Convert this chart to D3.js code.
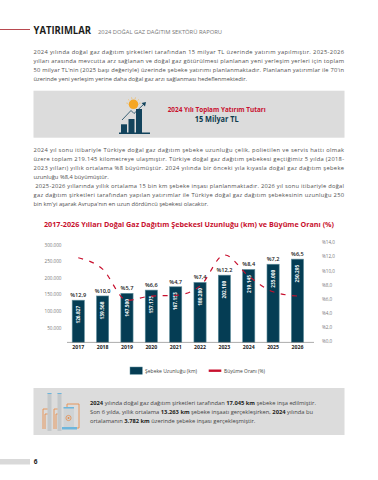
<!DOCTYPE html>
<html>
<head>
<meta charset="utf-8">
<script src="https://cdn.jsdelivr.net/npm/d3@7"></script>
<style>
html, body { margin: 0; padding: 0; background: #fff; }
svg { display: block; font-family: "Open Sans", sans-serif; }
</style>
</head>
<body>
<div id="chart"></div>
<script>
const years = ["2017", "2018", "2019", "2020", "2021", "2022", "2023", "2024", "2025", "2026"];
const lengths = [126827, 139568, 147500, 157175, 167153, 180280, 202100, 219145, 235000, 250295];
const lengthLabels = ["126.827", "139.568", "147.500", "157.175", "167.153", "180.280", "202.100", "219.145", "235.000", "250.295"];
const growth = [11.8, 10.2, 5.8, 6.4, 6.5, 7.8, 12.2, 9.2, 7.0, 6.4];
const growthLabels = ["%12,9", "%10,0", "%5,7", "%6,6", "%4,7", "%7,4", "%12,2", "%8,4", "%7,2", "%6,5"];
const leftTicks = [50000, 100000, 150000, 200000, 250000, 300000];
const leftTickLabels = ["50.000", "100.000", "150.000", "200.000", "250.000", "300.000"];
const rightTicks = [0, 2, 4, 6, 8, 10, 12, 14];
const rightTickLabels = ["%0,0", "%2,0", "%4,0", "%6,0", "%8,0", "%10,0", "%12,0", "%14,0"];

const para1 = [
    "2024 yılında doğal gaz dağıtım şirketleri tarafından 15 milyar TL üzerinde yatırım yapılmıştır. 2025-2026",
    "yılları arasında mevcutta arz sağlanan ve doğal gaz götürülmesi planlanan yeni yerleşim yerleri için toplam",
    "50 milyar TL'nin (2025 başı değeriyle) üzerinde şebeke yatırımı planlanmaktadır. Planlanan yatırımlar ile 70'in",
    "üzerinde yeni yerleşim yerine daha doğal gaz arzı sağlanması hedeflenmektedir."
];
const para2 = [
    "2024 yıl sonu itibariyle Türkiye doğal gaz dağıtım şebeke uzunluğu çelik, polietilen ve servis hattı olmak",
    "üzere toplam 219.145 kilometreye ulaşmıştır. Türkiye doğal gaz dağıtım şebekesi geçtiğimiz 5 yılda (2018-",
    "2023 yılları) yıllık ortalama %8 büyümüştür. 2024 yılında bir önceki yıla kıyasla doğal gaz dağıtım şebeke",
    "uzunluğu %8,4 büyümüştür.",
    " 2025-2026 yıllarında yıllık ortalama 15 bin km şebeke inşası planlanmaktadır. 2026 yıl sonu itibariyle doğal",
    "gaz dağıtım şirketleri tarafından yapılan yatırımlar ile Türkiye doğal gaz dağıtım şebekesinin uzunluğu 250",
    "bin km'yi aşarak Avrupa'nın en uzun dördüncü şebekesi olacaktır."
];
// [text, bold]
const note = [
    [["2024", 1], [" yılında doğal gaz dağıtım şirketleri tarafından ", 0], ["17.045 km", 1], [" şebeke inşa edilmiştir.", 0]],
    [["Son 6 yılda, yıllık ortalama ", 0], ["13.263 km", 1], [" şebeke inşaatı gerçekleşirken, ", 0], ["2024", 1], [" yılında bu", 0]],
    [["ortalamanın ", 0], ["3.782 km", 1], [" üzerinde şebeke inşası gerçekleşmiştir.", 0]]
];

const width = 378;
const height = 480;
const navy = "#053d54";
const red = "#c8102e";
const textGrey = "#505050";

const svg = d3.select("#chart").append("svg")
    .attr("width", width)
    .attr("height", height);

// header
svg.append("rect").attr("x", 0).attr("y", 29).attr("width", 30).attr("height", 1).attr("fill", "#b8494f");
svg.append("text").attr("x", 33.5).attr("y", 33.5)
    .attr("font-size", 10).attr("font-weight", 700).attr("fill", "#1d1d1b")
    .attr("textLength", 57.5).attr("lengthAdjust", "spacingAndGlyphs")
    .text("YATIRIMLAR");
svg.append("text").attr("x", 98).attr("y", 33.5)
    .attr("font-size", 5.6).attr("fill", "#777")
    .attr("textLength", 124).attr("lengthAdjust", "spacingAndGlyphs")
    .text("2024 DOĞAL GAZ DAĞITIM SEKTÖRÜ RAPORU");

function writeLines(lines, y0, justifyExcept) {
    svg.append("g").selectAll("text")
        .data(lines)
        .enter()
        .append("text")
        .attr("x", 33.5)
        .attr("y", (d, i) => y0 + i * 9)
        .attr("font-size", 5.75)
        .attr("fill", textGrey)
        .attr("xml:space", "preserve")
        .text(d => d)
        .each(function (d, i) {
            if (!justifyExcept.includes(i)) {
                d3.select(this).attr("textLength", 310.5).attr("lengthAdjust", "spacing");
            }
        });
}
writeLines(para1, 53.7, [3]);
writeLines(para2, 152, [3, 6]);

// top box
svg.append("rect").attr("x", 33.5).attr("y", 90.7).attr("width", 311).attr("height", 47).attr("fill", "#dcdcdc");
const icon = svg.append("g");
const sunRays = d3.range(-80, 81, 32);
icon.selectAll("line.ray")
    .data(sunRays)
    .enter()
    .append("line")
    .attr("x1", d => 133.5 + 5.6 * Math.sin(d * Math.PI / 180))
    .attr("y1", d => 104.3 - 5.6 * Math.cos(d * Math.PI / 180))
    .attr("x2", d => 133.5 + 7.2 * Math.sin(d * Math.PI / 180))
    .attr("y2", d => 104.3 - 7.2 * Math.cos(d * Math.PI / 180))
    .attr("stroke", "#f5b041").attr("stroke-width", 0.6);
icon.append("circle").attr("cx", 133.5).attr("cy", 104.3).attr("r", 4.8).attr("fill", "#f5a623");
icon.selectAll("rect.b")
    .data([[121, 124.3, 6, 9], [128.5, 119, 6, 14.3], [136, 109, 6, 24.3]])
    .enter()
    .append("rect")
    .attr("x", d => d[0]).attr("y", d => d[1]).attr("width", d => d[2]).attr("height", d => d[3])
    .attr("fill", "#12435c");
icon.append("rect").attr("x", 119).attr("y", 132.5).attr("width", 31).attr("height", 1.5).attr("fill", "#12435c");
icon.append("path").attr("d", "M122 120 L131 110.5 L134 113.5 L144 104").attr("fill", "none").attr("stroke", "#12435c").attr("stroke-width", 0.8);
icon.append("path").attr("d", "M146 102 L141.6 103 L145 106.4 Z").attr("fill", "#12435c");
svg.append("text").attr("x", 216.7).attr("y", 111.5).attr("text-anchor", "middle")
    .attr("font-size", 6.6).attr("font-weight", 700).attr("fill", red)
    .attr("textLength", 98).attr("lengthAdjust", "spacingAndGlyphs")
    .text("2024 Yılı Toplam Yatırım Tutarı");
svg.append("text").attr("x", 216.7).attr("y", 122).attr("text-anchor", "middle")
    .attr("font-size", 8).attr("font-weight", 700).attr("fill", "#0e3b4e")
    .attr("textLength", 44).attr("lengthAdjust", "spacingAndGlyphs")
    .text("15 Milyar TL");

// chart title
svg.append("text").attr("x", 189).attr("y", 227).attr("text-anchor", "middle")
    .attr("font-size", 7.2).attr("font-weight", 700).attr("fill", red)
    .attr("textLength", 290).attr("lengthAdjust", "spacing")
    .text("2017-2026 Yılları Doğal Gaz Dağıtım Şebekesi Uzunluğu (km) ve Büyüme Oranı (%)");

// scales
const x = d3.scaleBand().domain(years).range([60, 315.7]).padding(0.5);
const y = d3.scaleLinear().domain([0, 300000]).range([342.4, 242.6]);
const y2 = d3.scaleLinear().domain([0, 14]).range([341.4, 242.2]);

// bars
svg.append("g").selectAll("rect")
    .data(years)
    .enter()
    .append("rect")
    .attr("x", d => x(d))
    .attr("y", (d, i) => y(lengths[i]))
    .attr("width", x.bandwidth())
    .attr("height", (d, i) => y(0) - y(lengths[i]))
    .attr("fill", navy)
    .attr("stroke", "#5f8e9c")
    .attr("stroke-width", 0.6);

// baseline
svg.append("line").attr("x1", 67).attr("x2", 314).attr("y1", y(0)).attr("y2", y(0))
    .attr("stroke", "#8a8a8a").attr("stroke-width", 0.7);

// left axis
const leftAxis = d3.axisLeft(y)
    .tickValues(leftTicks)
    .tickSize(0)
    .tickPadding(0)
    .tickFormat((d, i) => leftTickLabels[i]);
svg.append("g").attr("transform", "translate(61.5,2)").call(leftAxis)
    .call(g => g.select(".domain").remove())
    .selectAll("text")
    .attr("font-family", "'Open Sans', sans-serif")
    .attr("font-size", 4.6)
    .attr("fill", "#777");

// right axis
const rightAxis = d3.axisRight(y2)
    .tickValues(rightTicks)
    .tickSize(0)
    .tickPadding(0)
    .tickFormat((d, i) => rightTickLabels[i]);
svg.append("g").attr("transform", "translate(322,0)").call(rightAxis)
    .call(g => g.select(".domain").remove())
    .selectAll("text")
    .attr("font-family", "'Open Sans', sans-serif")
    .attr("font-size", 4.6)
    .attr("fill", "#777");

// year labels
const xAxis = d3.axisBottom(x).tickSize(0).tickPadding(0);
svg.append("g").attr("transform", "translate(0,345.5)").call(xAxis)
    .call(g => g.select(".domain").remove())
    .selectAll("text")
    .attr("font-family", "'Open Sans', sans-serif")
    .attr("font-size", 5.2)
    .attr("font-weight", 700)
    .attr("fill", "#222");

// value labels inside bars
svg.append("g").selectAll("text")
    .data(lengthLabels)
    .enter()
    .append("text")
    .attr("transform", (d, i) => `translate(${x(years[i]) + x.bandwidth() / 2 + 1.8},${y(lengths[i]) + 14.5}) rotate(-90)`)
    .attr("text-anchor", "middle")
    .attr("font-size", 4.8)
    .attr("font-weight", 700)
    .attr("fill", "#fff")
    .text(d => d);

// growth labels over bars
svg.append("g").selectAll("text")
    .data(growthLabels)
    .enter()
    .append("text")
    .attr("x", (d, i) => x(years[i]) + x.bandwidth() / 2)
    .attr("y", (d, i) => y(lengths[i]) - 3)
    .attr("text-anchor", "middle")
    .attr("font-size", 5.6)
    .attr("font-weight", 600)
    .attr("fill", "#222")
    .text(d => d);

// growth line
const line = d3.line()
    .x((d, i) => x(years[i]) + x.bandwidth() / 2)
    .y(d => y2(d))
    .curve(d3.curveMonotoneX);
svg.append("path")
    .datum(growth)
    .attr("d", line)
    .attr("fill", "none")
    .attr("stroke", red)
    .attr("stroke-width", 1.2)
    .attr("stroke-dasharray", "5 6.5");

// legend
svg.append("rect").attr("x", 130).attr("y", 367).attr("width", 12.3).attr("height", 7.3)
    .attr("fill", navy).attr("stroke", "#5f8e9c").attr("stroke-width", 0.5);
svg.append("text").attr("x", 145).attr("y", 372.6).attr("font-size", 5).attr("fill", "#444")
    .attr("textLength", 52).attr("lengthAdjust", "spacingAndGlyphs")
    .text("Şebeke Uzunluğu (km)");
svg.append("line").attr("x1", 208.7).attr("x2", 221.3).attr("y1", 370.7).attr("y2", 370.7)
    .attr("stroke", red).attr("stroke-width", 2.4);
svg.append("text").attr("x", 224).attr("y", 372.6).attr("font-size", 5).attr("fill", "#444")
    .attr("textLength", 41).attr("lengthAdjust", "spacingAndGlyphs")
    .text("Büyüme Oranı (%)");

// bottom box
svg.append("rect").attr("x", 33.5).attr("y", 388).attr("width", 311).attr("height", 47).attr("fill", "#dcdcdc");
const plant = svg.append("g");
plant.selectAll("rect.column")
    .data([[47.5, 393, 4, 38], [57.5, 393, 4, 38]])
    .enter()
    .append("rect")
    .attr("x", d => d[0]).attr("y", d => d[1]).attr("width", d => d[2]).attr("height", d => d[3])
    .attr("fill", "#c4c8ca");
plant.selectAll("rect.cap")
    .data([[47.5, 393, 4, 1], [57.5, 393, 4, 1]])
    .enter()
    .append("rect")
    .attr("x", d => d[0]).attr("y", d => d[1]).attr("width", d => d[2]).attr("height", d => d[3])
    .attr("fill", "#6db6dc");
plant.selectAll("path")
    .data([
        "M43 429 V409 H47.5 M45 429 V414 H47.5",
        "M54 429 V409 H57.5 M56 429 V414 H57.5",
        "M67 407 V404 H79 V428 H76"
    ])
    .enter()
    .append("path")
    .attr("d", d => d)
    .attr("fill", "none")
    .attr("stroke", "#e58e4e")
    .attr("stroke-width", 0.9);
plant.append("rect").attr("x", 63.5).attr("y", 408).attr("width", 10.5).attr("height", 21).attr("fill", "#cfd3d5");
plant.append("rect").attr("x", 63.5).attr("y", 407).attr("width", 10.5).attr("height", 1.5).attr("fill", "#6db6dc");
plant.append("rect").attr("x", 62).attr("y", 427).attr("width", 15).attr("height", 2.5).attr("fill", "#6db6dc");
plant.append("circle").attr("cx", 68.5).attr("cy", 418).attr("r", 2.6).attr("fill", "none").attr("stroke", "#e58e4e").attr("stroke-width", 0.8);
plant.append("circle").attr("cx", 68.5).attr("cy", 418).attr("r", 1).attr("fill", "#e58e4e");

const noteText = svg.append("g").selectAll("text")
    .data(note)
    .enter()
    .append("text")
    .attr("x", 90)
    .attr("y", (d, i) => 404.7 + i * 9.1)
    .attr("font-size", 5.75)
    .attr("fill", "#3a3a3a");
noteText.selectAll("tspan")
    .data(d => d)
    .enter()
    .append("tspan")
    .attr("font-weight", d => d[1] ? 700 : 400)
    .attr("fill", d => d[1] ? "#1d1d1b" : "#444")
    .attr("xml:space", "preserve")
    .text(d => d[0]);

// page number
svg.append("rect").attr("x", 0).attr("y", 459).attr("width", 30).attr("height", 5.5).attr("fill", "#d9d9d9");
svg.append("text").attr("x", 33.8).attr("y", 464).attr("font-size", 6.5).attr("font-weight", 700).attr("fill", "#1d1d1b").text("6");
</script>
</body>
</html>
